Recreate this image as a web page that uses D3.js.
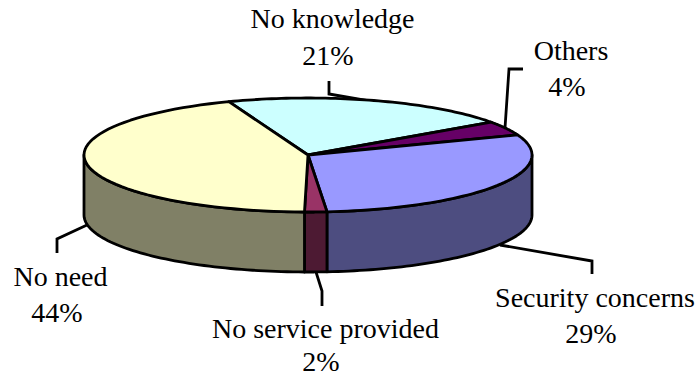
<!DOCTYPE html>
<html>
<head>
<meta charset="utf-8">
<script src="https://cdn.jsdelivr.net/npm/d3@7"></script>
<style>
  html, body { margin: 0; padding: 0; background: #fff; }
  text { font-family: "Liberation Serif", serif; font-size: 28px; fill: #000; text-anchor: middle; }
</style>
</head>
<body>
<svg id="chart" width="699" height="377"></svg>
<script>
// values, clockwise from the back of the pie
// (slice sizes, labels show them rounded)
const categories = ['No knowledge', 'Others', 'Security concerns', 'No service provided', 'No need'];
const shares = [21, 4, 29.4, 1.6, 44];
const topColors = ['#CCFFFF', '#660066', '#9999FF', '#993366', '#FFFFCC'];
const sideColors = ['#668080', '#330033', '#4D4D80', '#4D1A33', '#808066'];

const cx = 308, cy = 155, rx = 224, ry = 57, depth = 60;
const strokeW = 2.8;
const svg = d3.select('#chart');

// unit ellipse -> pixels
const x = d3.scaleLinear().domain([-1, 1]).range([cx - rx, cx + rx]);
const y = d3.scaleLinear().domain([-1, 1]).range([cy - ry, cy + ry]);
const px = a => x(Math.sin(a));
const py = a => y(-Math.cos(a));

const startAngle = -20.7 * Math.PI / 180;
const slices = d3.pie().sort(null).startAngle(startAngle).endAngle(startAngle + 2 * Math.PI)(shares);

const line = d3.line();
const rim = (a0, a1, dy) => d3.range(0, 61).map(i => {
  const a = a0 + (a1 - a0) * i / 60;
  return [px(a), py(a) + dy];
});

// leader lines go under the pie
const leaders = [
  [[329, 81], [329, 94], [375, 102]],
  [[523, 69], [509, 69], [505, 128]],
  [[592, 274], [592, 261], [500, 245]],
  [[316, 272], [322, 291], [322, 306]],
  [[57, 253], [57, 239], [87, 225]]
];
leaders.forEach(l => {
  svg.append('path')
    .attr('d', line(l))
    .attr('fill', 'none')
    .attr('stroke', '#000')
    .attr('stroke-width', strokeW);
});

// side walls, only the front half of the rim shows
slices.forEach((s, i) => {
  const a0 = Math.max(s.startAngle, Math.PI / 2);
  const a1 = Math.min(s.endAngle, 3 * Math.PI / 2);
  if (a1 <= a0) return;
  const pts = rim(a0, a1, 0).concat(rim(a1, a0, depth));
  svg.append('path')
    .attr('d', line(pts) + 'Z')
    .attr('fill', sideColors[i])
    .attr('stroke', '#000')
    .attr('stroke-width', strokeW)
    .attr('stroke-linejoin', 'round');
});

// top face
slices.forEach((s, i) => {
  const pts = [[cx, cy]].concat(rim(s.startAngle, s.endAngle, 0));
  svg.append('path')
    .attr('d', line(pts) + 'Z')
    .attr('fill', topColors[i])
    .attr('stroke', '#000')
    .attr('stroke-width', strokeW)
    .attr('stroke-linejoin', 'round');
});

// labels, in category order
const labelPos = [
  [332.5, 28], [571, 60], [595, 307], [325.5, 338], [60.5, 286]
];
const valuePos = [
  [328, 65], [567, 96], [591, 343], [321, 371], [57, 322]
];
categories.forEach((c, i) => {
  svg.append('text').attr('x', labelPos[i][0]).attr('y', labelPos[i][1]).text(c);
  svg.append('text').attr('x', valuePos[i][0]).attr('y', valuePos[i][1]).text(Math.round(shares[i]) + '%');
});
</script>
</body>
</html>
